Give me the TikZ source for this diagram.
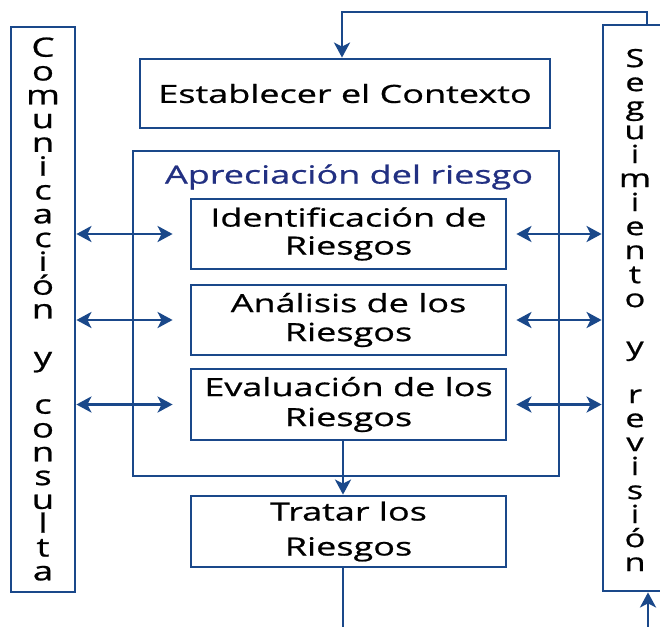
\documentclass[tikz,border=0pt]{standalone}
\usepackage{fontspec}
\setmainfont{Open Sans}[FakeStretch=1.44,FakeBold=0.8]
\newfontfamily\vfont{Open Sans}[FakeStretch=1.38,FakeBold=0.8]
\usetikzlibrary{arrows.meta}
\definecolor{lineblue}{RGB}{26,72,138}
\definecolor{titleblue}{RGB}{34,48,130}
\tikzset{
  boxstyle/.style={draw=lineblue, line width=2.8pt, inner sep=0pt, align=center,
    font=\fontsize{25}{29}\selectfont},
  conn/.style={draw=lineblue, line width=2.8pt},
  arr/.style={conn, -{Stealth[length=15pt,width=16pt,inset=4pt]}},
  dbl/.style={conn, {Stealth[length=15pt,width=16pt,inset=4pt]}-{Stealth[length=15pt,width=16pt,inset=4pt]}},
  vtext/.style={align=center, inner sep=0pt, text=black}
}
\begin{document}
\begin{tikzpicture}[x=1pt,y=-1pt]
\useasboundingbox (0,0) rectangle (660,626);
\clip (0,0) rectangle (660,626);
\fill[white] (0,0) rectangle (660,626);
% side boxes
\node[draw=lineblue, line width=2.8pt, minimum width=64pt, minimum height=565pt, inner sep=0pt] (cc) at (43,309.5) {};
\node[draw=lineblue, line width=2.8pt, minimum width=64pt, minimum height=566pt, inner sep=0pt] (rb) at (635,308) {};
\node[vtext, font=\vfont\fontsize{26.5}{23.8}\selectfont] (cctext) at (43,309) {C\\o\\m\\u\\n\\i\\c\\a\\c\\i\\ó\\n\\[23.8pt]y\\[23.8pt]c\\o\\n\\s\\u\\l\\t\\a};
\node[vtext, font=\vfont\fontsize{25}{24}\selectfont] (rbtext) at (635,310) {S\\e\\g\\u\\i\\m\\i\\e\\n\\t\\o\\[24pt]y\\[24pt]r\\e\\v\\i\\s\\i\\ó\\n};
% main boxes
\node[boxstyle, minimum width=410pt, minimum height=69pt] (ctx) at (345,93.5) {Establecer el Contexto};
\node[draw=lineblue, line width=2.8pt, minimum width=426pt, minimum height=325pt, inner sep=0pt] (apr) at (346,313.5) {};
\node[text=titleblue, font=\fontsize{25}{29}\selectfont, inner sep=0pt] (aprtitle) at (349,177) {Apreciación del riesgo};
\node[boxstyle, minimum width=315pt, minimum height=70pt, font=\fontsize{25}{28}\selectfont] (ide) at (348.5,234) {Identificación\ de\\Riesgos};
\node[boxstyle, minimum width=315pt, minimum height=70pt] (ana) at (348.5,320) {Análisis de los\\Riesgos};
\node[boxstyle, minimum width=315pt, minimum height=71pt, font=\fontsize{25}{30}\selectfont] (eva) at (348.5,404.5) {Evaluación de los\\Riesgos};
\node[boxstyle, minimum width=315pt, minimum height=71pt, font=\fontsize{25}{35}\selectfont] (tra) at (348.5,531.5) {Tratar los\\Riesgos};
% connectors
\coordinate (topturn) at (342,12);
\coordinate (botL) at (343,630);
\coordinate (botR) at (648,630);
\draw[arr] ([xshift=12pt]rb.north) |- (topturn) -- (topturn |- ctx.north);
\draw[arr] ([xshift=-5.5pt]eva.south) -- ([xshift=-5.5pt]tra.north);
\draw[conn] ([xshift=-5.5pt]tra.south) -- (botL);
\draw[arr] (botR) -- (botR |- rb.south);
\foreach \b in {ide,ana,eva}{
  \draw[dbl] (cc.east |- \b.west) -- ([xshift=-17pt]\b.west);
  \draw[dbl] ([xshift=9pt]\b.east) -- (rb.west |- \b.east);
}
\end{tikzpicture}
\end{document}
